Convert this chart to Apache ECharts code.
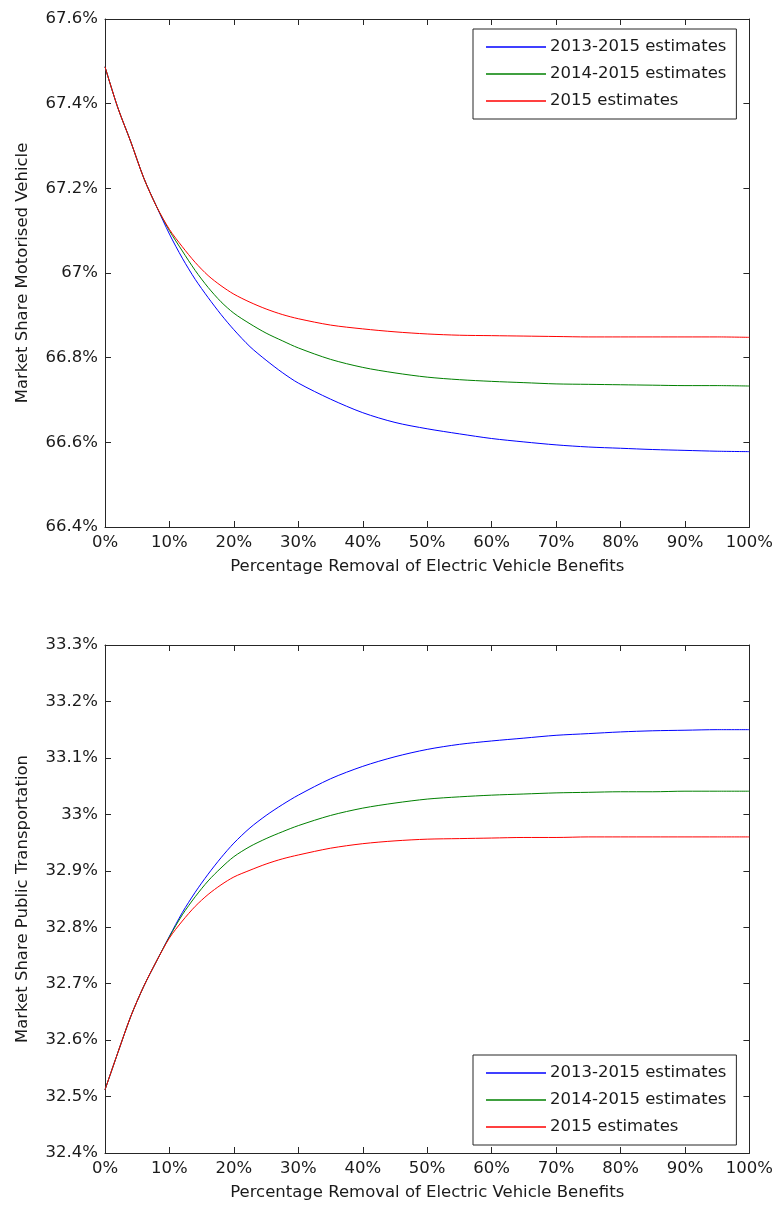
<!DOCTYPE html>
<html>
<head>
<meta charset="utf-8">
<title>Market share vs removal of EV benefits</title>
<script src="https://cdn.jsdelivr.net/npm/echarts@6/dist/echarts.min.js"></script>
<style>
  html, body { margin: 0; padding: 0; background: #ffffff; }
  #chart { width: 776px; height: 1205px; }
</style>
</head>
<body>
<div id="chart"></div>
<script>
// Percentage removal of electric vehicle benefits (x values, %)
const removalPct = [0, 2, 4, 6, 8, 10, 12, 14, 16, 18, 20, 22.5, 25, 27.5, 30,
  35, 40, 45, 50, 55, 60, 65, 70, 75, 80, 85, 90, 95, 100];

const seriesNames = ['2013-2015 estimates', '2014-2015 estimates', '2015 estimates'];
const seriesColors = ['#0000ff', '#008000', '#ff0000'];

// Market share of motorised vehicle (%)
const motor2013 = [67.487, 67.39, 67.31, 67.225, 67.157, 67.092, 67.035, 66.985, 66.942, 66.902, 66.866,
  66.826, 66.794, 66.765, 66.740, 66.702, 66.670, 66.647, 66.632, 66.620, 66.609, 66.601,
  66.594, 66.589, 66.586, 66.583, 66.581, 66.579, 66.578];
const motor2014 = [67.487, 67.39, 67.31, 67.225, 67.157, 67.100, 67.052, 67.006, 66.966, 66.932, 66.905,
  66.880, 66.858, 66.840, 66.823, 66.796, 66.777, 66.764, 66.754, 66.748, 66.744, 66.741,
  66.738, 66.737, 66.736, 66.735, 66.734, 66.734, 66.733];
const motor2015 = [67.487, 67.39, 67.31, 67.225, 67.157, 67.103, 67.062, 67.025, 66.994, 66.970, 66.950,
  66.931, 66.915, 66.902, 66.892, 66.877, 66.868, 66.861, 66.856, 66.853, 66.852, 66.851,
  66.850, 66.849, 66.849, 66.849, 66.849, 66.849, 66.848];

// Market share of public transportation (%)
const public2013 = [32.512, 32.578, 32.642, 32.695, 32.740, 32.784, 32.826, 32.862, 32.894, 32.923, 32.949,
  32.976, 32.998, 33.017, 33.034, 33.063, 33.085, 33.102, 33.115, 33.124, 33.130, 33.135,
  33.140, 33.143, 33.146, 33.148, 33.149, 33.150, 33.150];
const public2014 = [32.512, 32.578, 32.642, 32.695, 32.740, 32.783, 32.822, 32.854, 32.882, 32.905, 32.925,
  32.943, 32.957, 32.969, 32.980, 32.998, 33.011, 33.020, 33.027, 33.031, 33.034, 33.036,
  33.038, 33.039, 33.040, 33.040, 33.041, 33.041, 33.041];
const public2015 = [32.512, 32.578, 32.642, 32.695, 32.740, 32.781, 32.811, 32.837, 32.858, 32.875, 32.889,
  32.901, 32.912, 32.921, 32.928, 32.940, 32.948, 32.953, 32.956, 32.957, 32.958, 32.959,
  32.959, 32.960, 32.960, 32.960, 32.960, 32.960, 32.960];

const xAxisTitle = 'Percentage Removal of Electric Vehicle Benefits';
const topYAxisTitle = 'Market Share Motorised Vehicle';
const bottomYAxisTitle = 'Market Share Public Transportation';

const FONT = 'DejaVu Sans';
const FONT_SIZE = 16.5;
const INK = '#1a1a1a';
const AXIS = '#262626';

const pct = v => (Math.round(v * 10) / 10) + '%';

function pairs(ys) { return removalPct.map((x, i) => [x, ys[i]]); }

function xAxes(grid) {
  const base = {
    gridIndex: grid, type: 'value', min: 0, max: 100, interval: 10,
    axisLine: { show: true, onZero: false, lineStyle: { color: AXIS, width: 1 } },
    axisTick: { show: true, inside: true, length: 6, lineStyle: { color: AXIS, width: 1 } },
    splitLine: { show: false }
  };
  return [
    Object.assign({}, base, {
      position: 'bottom',
      axisLabel: { show: true, formatter: '{value}%', margin: 7, color: INK, fontFamily: FONT, fontSize: FONT_SIZE },
      name: xAxisTitle, nameLocation: 'middle', nameGap: 31,
      nameTextStyle: { color: INK, fontFamily: FONT, fontSize: FONT_SIZE }
    }),
    Object.assign({}, base, { position: 'top', axisLabel: { show: false } })
  ];
}

function yAxes(grid, min, max, interval, title) {
  const base = {
    gridIndex: grid, type: 'value', min: min, max: max, interval: interval,
    axisLine: { show: true, onZero: false, lineStyle: { color: AXIS, width: 1 } },
    axisTick: { show: true, inside: true, length: 6, lineStyle: { color: AXIS, width: 1 } },
    splitLine: { show: false }
  };
  return [
    Object.assign({}, base, {
      position: 'left',
      axisLabel: { show: true, formatter: pct, margin: 7, color: INK, fontFamily: FONT, fontSize: FONT_SIZE },
      name: title, nameLocation: 'middle', nameGap: 74,
      nameTextStyle: { color: INK, fontFamily: FONT, fontSize: FONT_SIZE }
    }),
    Object.assign({}, base, { position: 'right', axisLabel: { show: false } })
  ];
}

function lines(axisIndex, data) {
  return data.map((ys, i) => ({
    name: seriesNames[i],
    type: 'line',
    xAxisIndex: axisIndex, yAxisIndex: axisIndex,
    data: pairs(ys),
    showSymbol: false, symbol: 'none',
    smooth: 0.3,
    lineStyle: { color: seriesColors[i], width: 1 },
    itemStyle: { color: seriesColors[i] },
    emphasis: { disabled: true },
    animation: false,
    z: 3 + i
  }));
}

function legendBox(top) {
  return {
    orient: 'vertical', left: 473, top: top,
    data: seriesNames.map(n => ({ name: n, icon: 'path://M0,0 L60,0 L60,1.3 L0,1.3 Z' })),
    itemWidth: 60, itemHeight: 2, itemGap: 9,
    padding: [9, 10, 9, 13],
    borderColor: AXIS, borderWidth: 1, backgroundColor: '#ffffff',
    selectedMode: false,
    textStyle: { color: INK, fontFamily: FONT, fontSize: FONT_SIZE, lineHeight: 18, padding: [0, 0, 0, -1] }
  };
}

const chart = echarts.init(document.getElementById('chart'), null, { renderer: 'canvas' });

chart.setOption({
  animation: false,
  backgroundColor: '#ffffff',
  color: seriesColors,
  grid: [
    { left: 105, top: 19, width: 645, height: 508 },
    { left: 105, top: 645, width: 645, height: 508 }
  ],
  xAxis: [].concat(xAxes(0), xAxes(1)),
  yAxis: [].concat(
    yAxes(0, 66.4, 67.6, 0.2, topYAxisTitle),
    yAxes(1, 32.4, 33.3, 0.1, bottomYAxisTitle)
  ),
  legend: [legendBox(29), legendBox(1055)],
  series: [].concat(
    lines(0, [motor2013, motor2014, motor2015]),
    lines(2, [public2013, public2014, public2015])
  )
});
</script>
</body>
</html>
